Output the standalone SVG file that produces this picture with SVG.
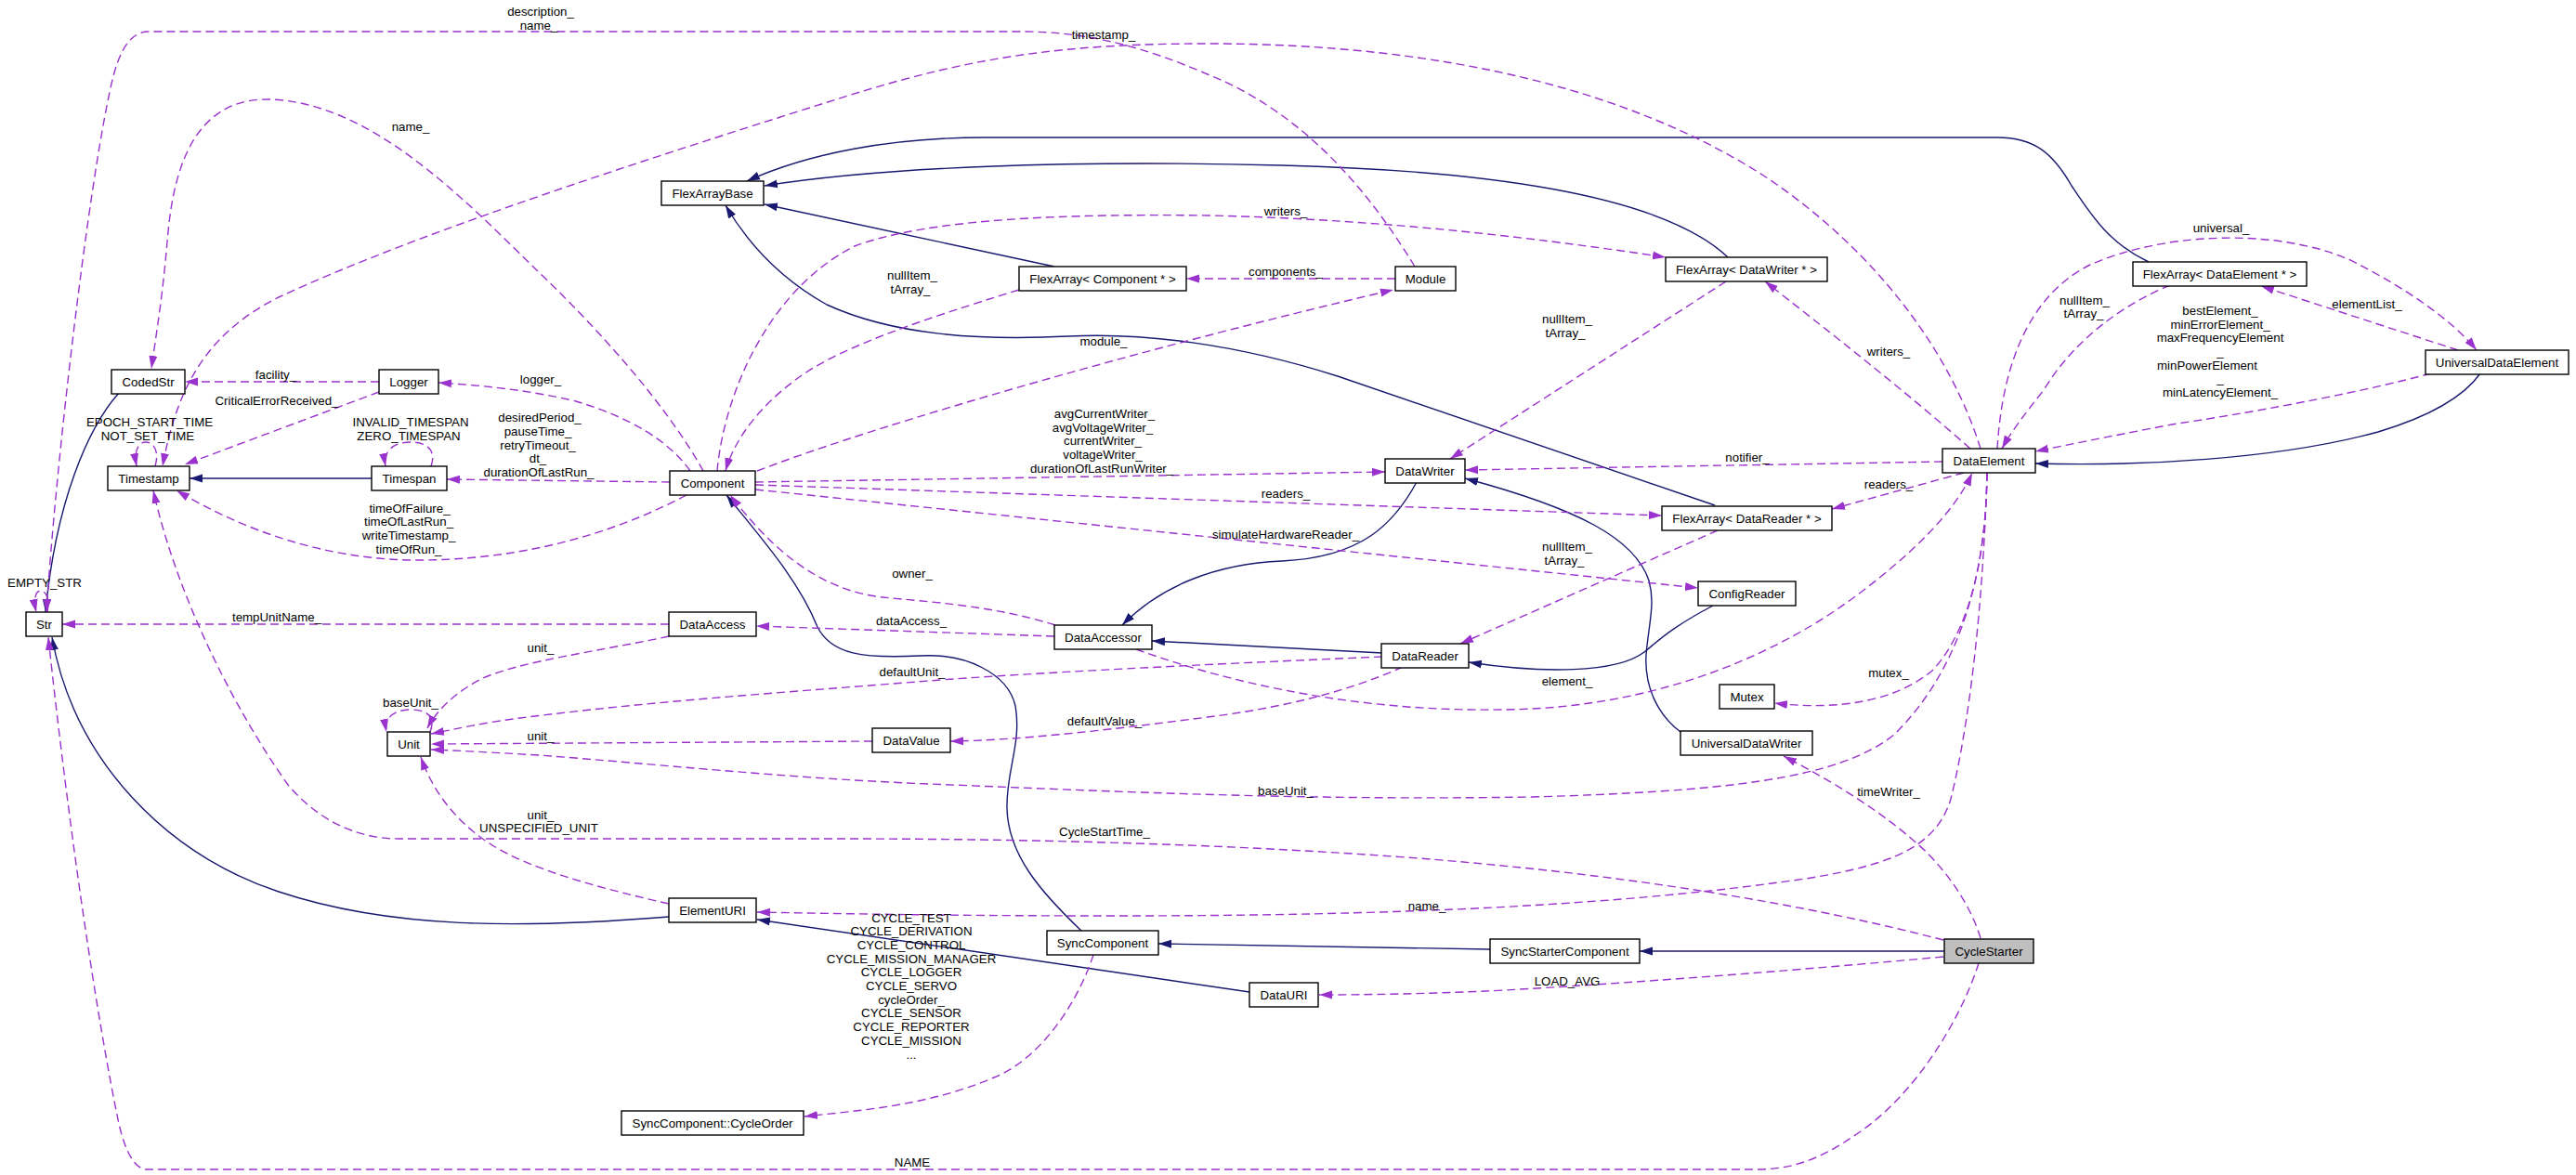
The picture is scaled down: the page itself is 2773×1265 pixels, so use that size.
<svg xmlns="http://www.w3.org/2000/svg" width="2773" height="1265" viewBox="0 0 2773 1265">
<defs>
<style>
.n rect{fill:#ffffff;stroke:#000000;stroke-width:1.4}
.n text{font-family:"Liberation Sans",Arial,sans-serif;font-size:13.3px;text-anchor:middle;fill:#000}
.i{fill:none;stroke:#191970;stroke-width:1.4;marker-end:url(#ai)}
.u{fill:none;stroke:#9a32cd;stroke-width:1.4;stroke-dasharray:9,5;marker-end:url(#au)}
.l{font-family:"Liberation Sans",Arial,sans-serif;font-size:13.3px;text-anchor:middle;fill:#000}
</style>
<marker id="ai" markerUnits="userSpaceOnUse" markerWidth="14" markerHeight="10" viewBox="0 0 14 10" refX="14" refY="5" orient="auto"><path d="M0,0.5 L14,5 L0,9.5 z" fill="#191970"/></marker>
<marker id="au" markerUnits="userSpaceOnUse" markerWidth="14" markerHeight="10" viewBox="0 0 14 10" refX="14" refY="5" orient="auto"><path d="M0,0.5 L14,5 L0,9.5 z" fill="#9a32cd"/></marker>
</defs>
<rect width="2773" height="1265" fill="#ffffff"/>
<g id="edges">
<!-- inheritance -->
<path class="i" d="M128,423 C95,460 60,540 49,659"/>
<path class="i" d="M720,987 C560,1000 420,1000 300,960 C180,920 80,820 56,686"/>
<path class="i" d="M400,515 L204,515"/>
<path class="i" d="M1135,287 L823,220"/>
<path class="i" d="M1860,277 C1800,220 1650,185 1380,178 C1150,172 950,180 823,200"/>
<path class="i" d="M2313,282 C2270,262 2250,230 2230,200 C2210,165 2190,148 2150,148 L1060,148 C960,148 870,165 804,195"/>
<path class="i" d="M1846,544 L1440,405 C1330,370 1230,358 1150,362 C1050,367 960,360 890,328 C840,300 805,262 781,221"/>
<path class="i" d="M1525,519 C1500,565 1465,600 1380,604 C1310,607 1250,630 1208,673"/>
<path class="i" d="M1488,703 L1240,690"/>
<path class="i" d="M1844,652 C1800,675 1785,690 1770,702 C1740,725 1660,725 1581,713"/>
<path class="i" d="M1809,788 C1785,770 1770,740 1772,705 C1775,670 1782,650 1775,625 C1760,580 1700,548 1577,515"/>
<path class="i" d="M1164,1002 C1120,960 1085,920 1084,870 C1083,830 1100,800 1093,760 C1085,725 1040,703 990,706 C930,709 895,705 880,675 C860,625 820,580 782,533"/>
<path class="i" d="M1345,1068 L815,990"/>
<path class="i" d="M1604,1022 L1247,1016"/>
<path class="i" d="M2093,1024 L1765,1024"/>
<path class="i" d="M2670,402 C2650,430 2610,450 2560,465 C2450,495 2300,502 2191,499"/>
<!-- usage -->
<path class="u" d="M51,659 C54,642 48,636 44,636 C38,636 36,645 39,659"/>
<path class="u" d="M720,672 L67,672"/>
<path class="u" d="M1523,287 C1470,200 1400,120 1300,80 C1230,50 1170,34 1100,34 L160,34 C140,34 128,55 120,90 C95,200 60,500 50,659"/>
<path class="u" d="M2130,1037 C2110,1100 2060,1180 2000,1220 C1960,1248 1930,1259 1890,1259 L158,1259 C145,1259 135,1240 128,1210 C105,1100 75,900 52,686"/>
<path class="u" d="M757,507 C720,440 650,360 580,293 C500,215 400,110 290,107 C200,105 185,200 180,260 C175,320 168,360 163,397"/>
<path class="u" d="M2132,483 C2100,380 2020,270 1900,190 C1760,100 1560,47 1300,47 C1150,47 1050,60 913,103 C700,170 450,250 300,320 C220,360 190,420 175,502"/>
<path class="u" d="M408,411 L199,411"/>
<path class="u" d="M167,502 C172,485 165,476 157,476 C149,476 144,485 147,502"/>
<path class="u" d="M408,422 L199,500"/>
<path class="u" d="M739,533 C650,580 550,603 450,603 C350,603 260,570 190,528"/>
<path class="u" d="M2092,1012 C1950,975 1750,940 1500,922 C1300,908 1100,903 900,903 L430,903 C380,903 340,880 310,845 C250,760 190,640 165,528"/>
<path class="u" d="M464,502 C470,485 460,476 442,476 C424,476 412,485 415,502"/>
<path class="u" d="M721,519 L481,516"/>
<path class="u" d="M743,507 C720,475 680,450 620,432 C570,420 520,415 472,412"/>
<path class="u" d="M463,788 C470,770 458,764 442,764 C425,764 413,772 416,788"/>
<path class="u" d="M720,685 C650,700 560,712 520,730 C490,745 470,765 460,784"/>
<path class="u" d="M1488,707 C1300,715 1100,725 1000,733 C850,745 700,755 560,773 C520,778 490,785 464,790"/>
<path class="u" d="M939,798 L464,801"/>
<path class="u" d="M2139,509 C2138,620 2110,720 2040,790 C1980,840 1850,852 1650,858 C1400,862 1200,852 1000,844 C850,838 700,822 580,813 C530,810 490,808 464,807"/>
<path class="u" d="M720,973 C640,955 570,935 530,910 C490,885 465,850 453,815"/>
<path class="u" d="M1097,312 C990,345 900,375 855,410 C815,440 790,475 781,507"/>
<path class="u" d="M772,507 C780,420 830,310 920,265 C1000,235 1150,230 1300,232 C1500,236 1680,260 1793,277"/>
<path class="u" d="M815,507 C950,455 1250,370 1500,312"/>
<path class="u" d="M1502,300 L1277,300"/>
<path class="u" d="M813,519 L1491,508"/>
<path class="u" d="M813,522 L1789,555"/>
<path class="u" d="M813,527 L1828,633"/>
<path class="u" d="M1858,303 L1561,494"/>
<path class="u" d="M2091,497 L1577,506"/>
<path class="u" d="M2121,483 C2050,420 1960,350 1900,303"/>
<path class="u" d="M2114,509 L1972,548"/>
<path class="u" d="M1849,571 L1572,693"/>
<path class="u" d="M1135,685 L814,674"/>
<path class="u" d="M1510,718 C1450,745 1380,762 1300,772 C1200,785 1100,797 1023,798"/>
<path class="u" d="M1223,699 C1350,745 1500,770 1650,763 C1800,755 1920,700 2000,640 C2060,595 2105,550 2123,509"/>
<path class="u" d="M2139,509 C2138,600 2120,680 2080,722 C2040,755 1980,765 1910,757"/>
<path class="u" d="M2139,509 C2135,650 2120,780 2100,860 C2085,910 2040,930 1950,945 C1750,975 1500,986 1200,986 C1000,986 880,983 815,982"/>
<path class="u" d="M2150,483 C2155,400 2180,320 2250,285 C2330,250 2450,245 2530,280 C2590,310 2640,345 2666,377"/>
<path class="u" d="M2336,307 C2280,330 2230,370 2200,420 C2180,445 2165,465 2155,483"/>
<path class="u" d="M2617,402 C2550,420 2450,440 2338,457 C2280,468 2230,478 2191,486"/>
<path class="u" d="M2646,377 L2434,308"/>
<path class="u" d="M2132,1010 C2120,970 2090,930 2060,905 C2020,870 1970,840 1920,814"/>
<path class="u" d="M2092,1030 C1900,1048 1700,1062 1600,1067 C1530,1070 1470,1071 1420,1071"/>
<path class="u" d="M1177,1028 C1160,1080 1120,1140 1070,1160 C1000,1190 930,1195 866,1202"/>
<path class="u" d="M1136,673 C1070,652 1000,648 950,643 C880,635 830,590 786,533"/>
</g>
<g id="labels">
<text class="l" x="582" y="16.5">description_</text>
<text class="l" x="580" y="31.5">name_</text>
<text class="l" x="442" y="140.5">name_</text>
<text class="l" x="1188" y="41.5">timestamp_</text>
<text class="l" x="1384" y="231.5">writers_</text>
<text class="l" x="1384" y="296.5">components_</text>
<text class="l" x="982" y="300.5">nullItem_</text>
<text class="l" x="980" y="315.5">tArray_</text>
<text class="l" x="1188" y="371.5">module_</text>
<text class="l" x="1687" y="347.5">nullItem_</text>
<text class="l" x="1685" y="362.5">tArray_</text>
<text class="l" x="2033" y="382.5">writers_</text>
<text class="l" x="2391" y="249.5">universal_</text>
<text class="l" x="2244" y="327.5">nullItem_</text>
<text class="l" x="2243" y="341.5">tArray_</text>
<text class="l" x="2548" y="331.5">elementList_</text>
<text class="l" x="2390" y="338.5">bestElement_</text>
<text class="l" x="2390" y="353.5">minErrorElement_</text>
<text class="l" x="2390" y="367.5">maxFrequencyElement</text>
<text class="l" x="2390" y="382.5">_</text>
<text class="l" x="2376" y="397.5">minPowerElement</text>
<text class="l" x="2390" y="411.5">_</text>
<text class="l" x="2390" y="426.5">minLatencyElement_</text>
<text class="l" x="297" y="407.5">facility_</text>
<text class="l" x="582" y="412.5">logger_</text>
<text class="l" x="298" y="435.5">CriticalErrorReceived_</text>
<text class="l" x="161" y="458.5">EPOCH_START_TIME</text>
<text class="l" x="159" y="473.5">NOT_SET_TIME</text>
<text class="l" x="442" y="458.5">INVALID_TIMESPAN</text>
<text class="l" x="440" y="473.5">ZERO_TIMESPAN</text>
<text class="l" x="581" y="453.5">desiredPeriod_</text>
<text class="l" x="579" y="468.5">pauseTime_</text>
<text class="l" x="579" y="483.5">retryTimeout_</text>
<text class="l" x="579" y="497.5">dt_</text>
<text class="l" x="580" y="512.5">durationOfLastRun_</text>
<text class="l" x="1189" y="449.5">avgCurrentWriter_</text>
<text class="l" x="1187" y="464.5">avgVoltageWriter_</text>
<text class="l" x="1187" y="478.5">currentWriter_</text>
<text class="l" x="1187" y="493.5">voltageWriter_</text>
<text class="l" x="1186" y="508.5">durationOfLastRunWriter_</text>
<text class="l" x="1881" y="496.5">notifier_</text>
<text class="l" x="1384" y="535.5">readers_</text>
<text class="l" x="2033" y="525.5">readers_</text>
<text class="l" x="441" y="551.5">timeOfFailure_</text>
<text class="l" x="440" y="565.5">timeOfLastRun_</text>
<text class="l" x="440" y="580.5">writeTimestamp_</text>
<text class="l" x="440" y="595.5">timeOfRun_</text>
<text class="l" x="1384" y="579.5">simulateHardwareReader_</text>
<text class="l" x="1687" y="592.5">nullItem_</text>
<text class="l" x="1684" y="607.5">tArray_</text>
<text class="l" x="982" y="621.5">owner_</text>
<text class="l" x="48" y="631.5">EMPTY_STR</text>
<text class="l" x="298" y="668.5">tempUnitName_</text>
<text class="l" x="981" y="672.5">dataAccess_</text>
<text class="l" x="582" y="701.5">unit_</text>
<text class="l" x="982" y="727.5">defaultUnit_</text>
<text class="l" x="1687" y="737.5">element_</text>
<text class="l" x="2033" y="728.5">mutex_</text>
<text class="l" x="442" y="760.5">baseUnit_</text>
<text class="l" x="1189" y="780.5">defaultValue_</text>
<text class="l" x="582" y="796.5">unit_</text>
<text class="l" x="1384" y="855.5">baseUnit_</text>
<text class="l" x="2033" y="856.5">timeWriter_</text>
<text class="l" x="582" y="881.5">unit_</text>
<text class="l" x="580" y="895.5">UNSPECIFIED_UNIT</text>
<text class="l" x="1189" y="899.5">CycleStartTime_</text>
<text class="l" x="1536" y="979.5">name_</text>
<text class="l" x="981" y="992.5">CYCLE_TEST</text>
<text class="l" x="981" y="1007.2">CYCLE_DERIVATION</text>
<text class="l" x="981" y="1021.9">CYCLE_CONTROL</text>
<text class="l" x="981" y="1036.6">CYCLE_MISSION_MANAGER</text>
<text class="l" x="981" y="1051.3">CYCLE_LOGGER</text>
<text class="l" x="981" y="1066">CYCLE_SERVO</text>
<text class="l" x="981" y="1080.7">cycleOrder_</text>
<text class="l" x="981" y="1095.4">CYCLE_SENSOR</text>
<text class="l" x="981" y="1110.1">CYCLE_REPORTER</text>
<text class="l" x="981" y="1124.8">CYCLE_MISSION</text>
<text class="l" x="981" y="1139.5">...</text>
<text class="l" x="1687" y="1060.5">LOAD_AVG</text>
<text class="l" x="982" y="1255.5">NAME</text>
</g>
<g id="FlexArrayBase" class="n"><rect x="712" y="195" width="110" height="26"/><text x="767" y="212.5">FlexArrayBase</text></g>
<g id="CodedStr" class="n"><rect x="120" y="398" width="79" height="26"/><text x="159.5" y="415.5">CodedStr</text></g>
<g id="Logger" class="n"><rect x="408" y="398" width="64" height="26"/><text x="440" y="415.5">Logger</text></g>
<g id="FlexArrayComponent" class="n"><rect x="1097" y="287" width="180" height="26"/><text x="1187" y="304.5">FlexArray&lt; Component * &gt;</text></g>
<g id="Module" class="n"><rect x="1502" y="287" width="65" height="26"/><text x="1534.5" y="304.5">Module</text></g>
<g id="FlexArrayDataWriter" class="n"><rect x="1793" y="277" width="174" height="26"/><text x="1880" y="294.5">FlexArray&lt; DataWriter * &gt;</text></g>
<g id="FlexArrayDataElement" class="n"><rect x="2296" y="282" width="187" height="26"/><text x="2389.5" y="299.5">FlexArray&lt; DataElement * &gt;</text></g>
<g id="UniversalDataElement" class="n"><rect x="2611" y="377" width="154" height="26"/><text x="2688" y="394.5">UniversalDataElement</text></g>
<g id="Timestamp" class="n"><rect x="116" y="502" width="88" height="26"/><text x="160" y="519.5">Timestamp</text></g>
<g id="Timespan" class="n"><rect x="400" y="502" width="81" height="26"/><text x="440.5" y="519.5">Timespan</text></g>
<g id="Component" class="n"><rect x="721" y="507" width="92" height="26"/><text x="767" y="524.5">Component</text></g>
<g id="DataWriter" class="n"><rect x="1491" y="494" width="86" height="26"/><text x="1534" y="511.5">DataWriter</text></g>
<g id="DataElement" class="n"><rect x="2091" y="483" width="100" height="26"/><text x="2141" y="500.5">DataElement</text></g>
<g id="FlexArrayDataReader" class="n"><rect x="1789" y="545" width="183" height="26"/><text x="1880.5" y="562.5">FlexArray&lt; DataReader * &gt;</text></g>
<g id="Str" class="n"><rect x="28" y="659" width="39" height="26"/><text x="47.5" y="676.5">Str</text></g>
<g id="DataAccess" class="n"><rect x="720" y="659" width="94" height="26"/><text x="767" y="676.5">DataAccess</text></g>
<g id="ConfigReader" class="n"><rect x="1828" y="626" width="105" height="26"/><text x="1880.5" y="643.5">ConfigReader</text></g>
<g id="DataAccessor" class="n"><rect x="1135" y="673" width="105" height="26"/><text x="1187.5" y="690.5">DataAccessor</text></g>
<g id="DataReader" class="n"><rect x="1487" y="693" width="94" height="26"/><text x="1534" y="710.5">DataReader</text></g>
<g id="Mutex" class="n"><rect x="1851" y="737" width="59" height="26"/><text x="1880.5" y="754.5">Mutex</text></g>
<g id="Unit" class="n"><rect x="417" y="788" width="46" height="26"/><text x="440" y="805.5">Unit</text></g>
<g id="DataValue" class="n"><rect x="939" y="784" width="84" height="26"/><text x="981" y="801.5">DataValue</text></g>
<g id="UniversalDataWriter" class="n"><rect x="1809" y="787" width="142" height="26"/><text x="1880" y="804.5">UniversalDataWriter</text></g>
<g id="ElementURI" class="n"><rect x="720" y="967" width="94" height="26"/><text x="767" y="984.5">ElementURI</text></g>
<g id="SyncComponent" class="n"><rect x="1127" y="1002" width="120" height="26"/><text x="1187" y="1019.5">SyncComponent</text></g>
<g id="SyncStarterComponent" class="n"><rect x="1604" y="1011" width="161" height="26"/><text x="1684.5" y="1028.5">SyncStarterComponent</text></g>
<g id="CycleStarter" class="n"><rect x="2093" y="1011" width="96" height="26" style="fill:#bfbfbf"/><text x="2141" y="1028.5">CycleStarter</text></g>
<g id="DataURI" class="n"><rect x="1345" y="1058" width="74" height="26"/><text x="1382" y="1075.5">DataURI</text></g>
<g id="CycleOrder" class="n"><rect x="669" y="1196" width="196" height="26"/><text x="767" y="1213.5">SyncComponent::CycleOrder</text></g>
</svg>
